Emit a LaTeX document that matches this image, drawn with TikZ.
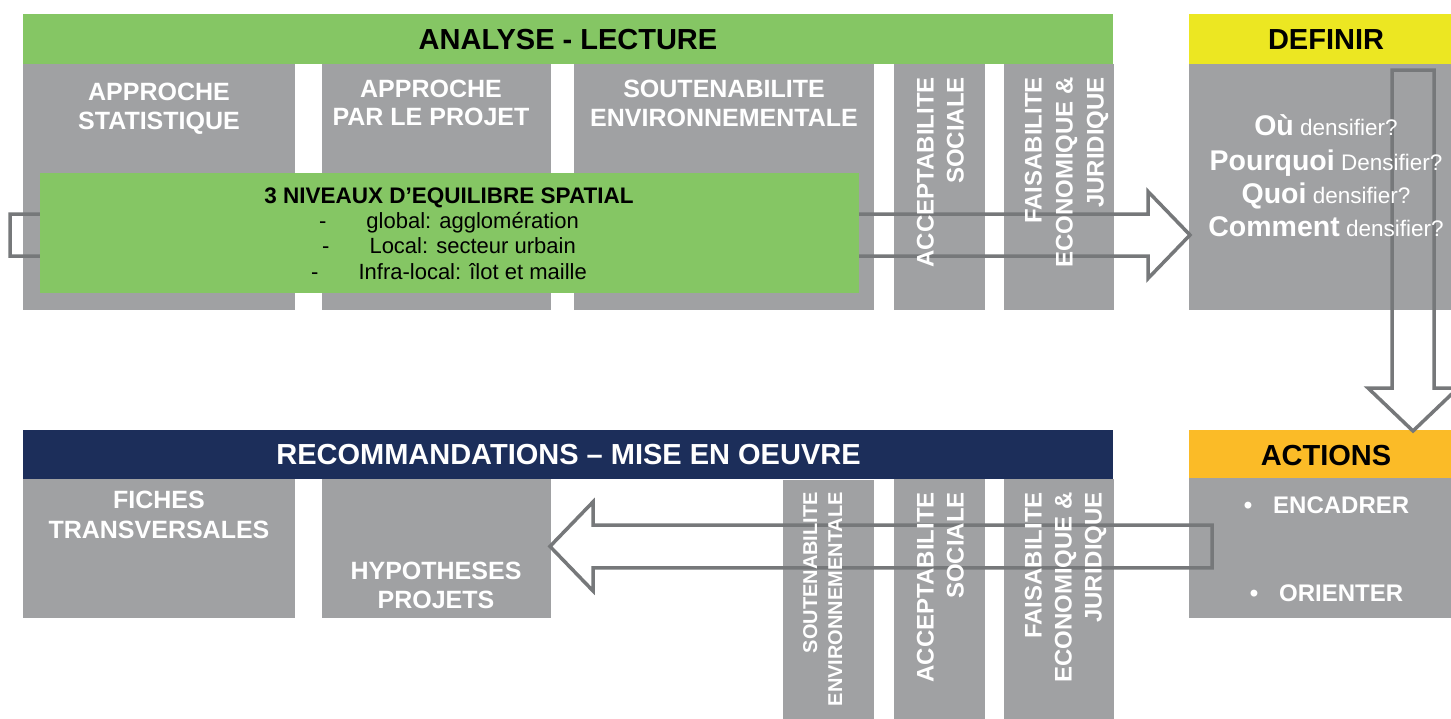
\documentclass[tikz,border=0pt]{standalone}
\usepackage{fontspec}
\setmainfont{Liberation Sans}
\usetikzlibrary{calc}

\definecolor{hdrgreen}{RGB}{133,198,100}
\definecolor{boxgrey}{RGB}{160,161,163}
\definecolor{arrowgrey}{RGB}{118,120,122}
\definecolor{defyellow}{RGB}{236,231,34}
\definecolor{actorange}{RGB}{251,187,39}
\definecolor{navyblue}{RGB}{28,46,90}

\tikzset{
  panel/.style={draw=none, inner sep=0pt, outer sep=0pt, anchor=north west},
  greybox/.style={panel, fill=boxgrey},
  hdrtxt/.style={font=\fontsize{29}{34}\selectfont\bfseries, anchor=base, inner sep=0pt},
  boxtxt/.style={text=white, font=\fontsize{25}{29}\selectfont\bfseries, anchor=base, inner sep=0pt},
  vtxt/.style={text=white, font=\fontsize{24}{28}\selectfont\bfseries, rotate=90, anchor=base east, inner sep=0pt},
  vsmall/.style={vtxt, font=\fontsize{20}{24}\selectfont\bfseries},
  eqtitle/.style={font=\fontsize{22.5}{26}\selectfont\bfseries, anchor=base, inner sep=0pt},
  eqitem/.style={font=\fontsize{22}{26}\selectfont, anchor=base, inner sep=0pt},
  question/.style={text=white, anchor=base, inner sep=0pt},
  blockarrow/.style={draw=arrowgrey, line width=3.5pt, line join=miter, fill=none},
}

\newcommand{\qbold}[1]{{\fontsize{28.5}{32}\selectfont\bfseries #1}}
\newcommand{\qreg}[1]{{\fontsize{22.5}{26}\selectfont #1}}

\begin{document}
\begin{tikzpicture}[x=1pt, y=-1pt]
  \clip (0,0) rectangle (1451,718);
  \fill[white] (0,0) rectangle (1451,718);

  % --- upper band: analysis columns
  \node[panel, fill=hdrgreen, minimum width=1090pt, minimum height=50pt] (analyse) at (23,14) {};
  \node[greybox, minimum width=272pt, minimum height=246pt] (stat) at (23,64) {};
  \node[greybox, minimum width=229pt, minimum height=246pt] (projet) at (322,64) {};
  \node[greybox, minimum width=300pt, minimum height=246pt] (soutA) at (574,64) {};
  \node[greybox, minimum width=91pt, minimum height=246pt] (accA) at (894,64) {};
  \node[greybox, minimum width=110pt, minimum height=246pt] (faisA) at (1004,64) {};

  % --- right column: define / actions
  \node[panel, fill=defyellow, minimum width=274pt, minimum height=50pt] (definir) at (1189,14) {};
  \node[greybox, minimum width=274pt, minimum height=246pt] (questions) at (1189,64) {};
  \node[panel, fill=actorange, minimum width=274pt, minimum height=48pt] (actions) at (1189,430) {};
  \node[greybox, minimum width=274pt, minimum height=140pt] (actlist) at (1189,478) {};

  % --- lower band: recommendations
  \node[panel, fill=navyblue, minimum width=1090pt, minimum height=49pt] (recomm) at (23,430) {};
  \node[greybox, minimum width=272pt, minimum height=139pt] (fiches) at (23,479) {};
  \node[greybox, minimum width=229pt, minimum height=139pt] (hypo) at (322,479) {};
  \node[greybox, minimum width=91pt, minimum height=240pt] (soutB) at (783,480) {};
  \node[greybox, minimum width=91pt, minimum height=240pt] (accB) at (894,479) {};
  \node[greybox, minimum width=110pt, minimum height=240pt] (faisB) at (1004,479) {};

  % --- block arrows
  \coordinate (ta0) at (10,235);
  \coordinate (ta1) at (1190,235);
  \draw[blockarrow] ($(ta0)+(0,-21)$) -- ($(ta1)+(-42,-21)$) -- ($(ta1)+(-42,-43.5)$) -- (ta1)
        -- ($(ta1)+(-42,43.5)$) -- ($(ta1)+(-42,21)$) -- ($(ta0)+(0,21)$) -- cycle;

  \coordinate (da0) at (1413,70);
  \coordinate (da1) at (1413,431);
  \draw[blockarrow] ($(da0)+(-21,0)$) -- ($(da1)+(-21,-43)$) -- ($(da1)+(-45,-43)$) -- (da1)
        -- ($(da1)+(45,-43)$) -- ($(da1)+(21,-43)$) -- ($(da0)+(21,0)$) -- cycle;

  \coordinate (ba0) at (1212,546.4);
  \coordinate (ba1) at (550,546.4);
  \draw[blockarrow] ($(ba0)+(0,-21.4)$) -- ($(ba1)+(43,-21.4)$) -- ($(ba1)+(43,-44.5)$) -- (ba1)
        -- ($(ba1)+(43,44.5)$) -- ($(ba1)+(43,21.4)$) -- ($(ba0)+(0,21.4)$) -- cycle;

  % --- spatial balance panel
  \node[panel, fill=hdrgreen, minimum width=819pt, minimum height=120pt] (niveaux) at (40,173) {};
  \node[eqtitle] (nvtitle) at (449,203) {3 NIVEAUX D’EQUILIBRE SPATIAL};
  \node[eqitem] (nv1) at (449,228.5) {-\hspace{40pt}global: agglomération};
  \node[eqitem] (nv2) at (449,253.5) {-\hspace{40pt}Local: secteur urbain};
  \node[eqitem] (nv3) at (449,279) {-\hspace{40pt}Infra-local: îlot et maille};

  % --- headings
  \node[hdrtxt] (tanalyse) at (568,49.5) {ANALYSE - LECTURE};
  \node[hdrtxt] (tdefinir) at (1326,49.5) {DEFINIR};
  \node[hdrtxt, text=white] (trecomm) at (568.5,464.5) {RECOMMANDATIONS – MISE EN OEUVRE};
  \node[hdrtxt] (tactions) at (1326,465) {ACTIONS};

  % --- column titles
  \node[boxtxt] (st1) at (159,100) {APPROCHE};
  \node[boxtxt] (st2) at (159,129) {STATISTIQUE};
  \node[boxtxt] (pr1) at (431,97) {APPROCHE};
  \node[boxtxt] (pr2) at (431,125) {PAR LE PROJET};
  \node[boxtxt] (so1) at (724,97) {SOUTENABILITE};
  \node[boxtxt] (so2) at (724,126) {ENVIRONNEMENTALE};
  \node[boxtxt] (fi1) at (159,508) {FICHES};
  \node[boxtxt] (fi2) at (159,538) {TRANSVERSALES};
  \node[boxtxt] (hy1) at (436,579) {HYPOTHESES};
  \node[boxtxt] (hy2) at (436,608) {PROJETS};

  % --- upright column titles, upper band
  \node[vtxt] (acA1) at (933.6,77) {ACCEPTABILITE};
  \node[vtxt] (acA2) at (963.6,77) {SOCIALE};
  \node[vtxt] (faA1) at (1041.6,77) {FAISABILITE};
  \node[vtxt] (faA2) at (1072.6,77) {ECONOMIQUE \&};
  \node[vtxt] (faA3) at (1103.6,77) {JURIDIQUE};

  % --- upright column titles, lower band
  \node[vsmall] (soB1) at (817.2,492) {SOUTENABILITE};
  \node[vsmall] (soB2) at (842.2,492) {ENVIRONNEMENTALE};
  \node[vtxt] (acB1) at (933.6,492) {ACCEPTABILITE};
  \node[vtxt] (acB2) at (963.6,492) {SOCIALE};
  \node[vtxt] (faB1) at (1041.6,492) {FAISABILITE};
  \node[vtxt] (faB2) at (1071.6,492) {ECONOMIQUE \&};
  \node[vtxt] (faB3) at (1101.6,492) {JURIDIQUE};

  % --- questions
  \node[question] (q1) at (1326,135) {\qbold{Où}\qreg{ densifier?}};
  \node[question] (q2) at (1326,170) {\qbold{Pourquoi}\qreg{ Densifier?}};
  \node[question] (q3) at (1326,203) {\qbold{Quoi}\qreg{ densifier?}};
  \node[question] (q4) at (1326,236.5) {\qbold{Comment}\qreg{ densifier?}};

  % --- actions list
  \node[boxtxt, font=\fontsize{24}{28}\selectfont\bfseries] (ac1) at (1326.5,513.6) {•\hspace{21pt}ENCADRER};
  \node[boxtxt, font=\fontsize{24}{28}\selectfont\bfseries] (ac2) at (1326.5,601.6) {•\hspace{21pt}ORIENTER};
\end{tikzpicture}
\end{document}
